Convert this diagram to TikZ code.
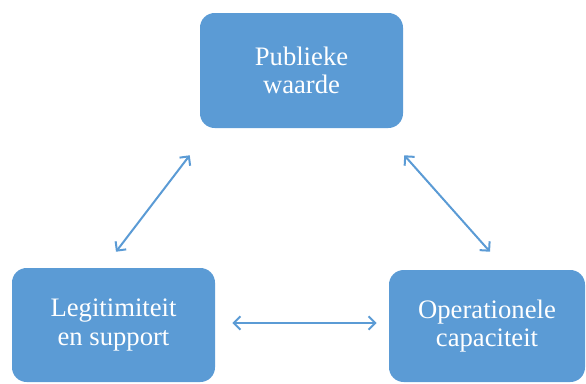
\documentclass[tikz,border=0pt]{standalone}
\usepackage{fontspec}
\setmainfont{Liberation Serif}
\usetikzlibrary{arrows.meta,positioning,calc}
\definecolor{office}{HTML}{5B9BD5}

\begin{document}
\begin{tikzpicture}[x=0.75pt,y=-0.75pt,
   >={Straight Barb[length=5pt,width=10pt]},
   blok/.style={rectangle,rounded corners=11pt,fill=office,text=white,align=center,inner sep=0pt,font=\fontsize{20}{21.5}\selectfont},
   pijl/.style={<->,draw=office,line width=1.5pt}]
  \useasboundingbox (0,0) rectangle (586,383);
  % de drie blokken
  \node[blok,minimum width=152.25pt,minimum height=86.25pt] (pw) at (301.5,70.5) {Publieke\\waarde};
  \node[blok,minimum width=152.25pt,minimum height=85.5pt] (ls) at (113.5,325) {Legitimiteit\\en support};
  \node[blok,minimum width=147pt,minimum height=84pt] (oc) at (487,326) {Operationele\\capaciteit};
  % pijlen
  \draw[pijl] ($(pw.south west)+(-10,27)$) -- ($(ls.north)+(2.5,-16)$);
  \draw[pijl] ($(pw.south east)+(1,27)$) -- ($(oc.north)+(3,-18)$);
  \draw[pijl] ($(ls.east)+(17,-2)$) -- ($(oc.west)+(-12,-3)$);
\end{tikzpicture}
\end{document}
